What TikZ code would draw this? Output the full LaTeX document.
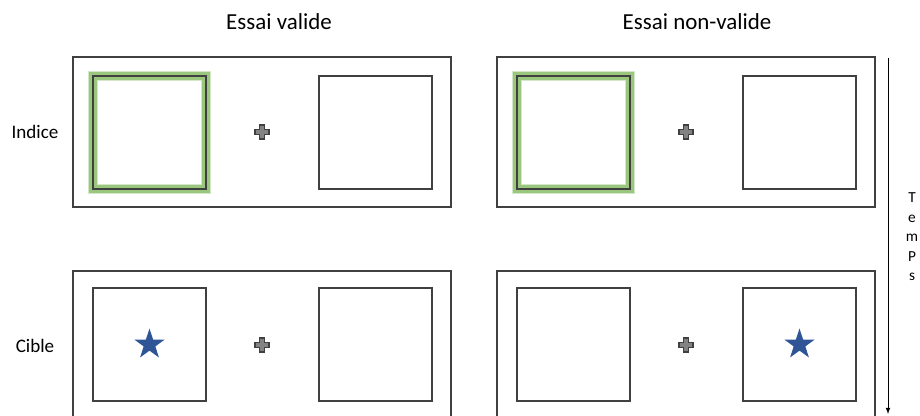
\documentclass[tikz,border=0pt]{standalone}
\usepackage{fontspec}
\setmainfont{Carlito}
\usepackage{xcolor}
\usetikzlibrary{shapes.geometric}
\usetikzlibrary{arrows,calc,positioning}

\definecolor{trait}{HTML}{404040}
\definecolor{etoile}{HTML}{2F5597}
\definecolor{halo}{HTML}{70AD47}

\begin{document}
\begin{tikzpicture}[x=0.75pt,y=-0.75pt]
\tikzset{
  cadre/.style={draw=trait,line width=1.5pt,minimum width=283.5pt,minimum height=112.5pt,inner sep=0pt},
  carre/.style={draw=trait,line width=1.5pt,minimum size=84.75pt,inner sep=0pt},
  lueur/.style={carre,line width=2.2pt},
  cible/.style={star,star points=5,star point ratio=2.6,fill=etoile,minimum size=24pt,inner sep=0pt},
  croix/.pic={\draw[draw=trait,fill=trait!65,line width=1pt]
     (-2.5,-7) -- (2.5,-7) -- (2.5,-2.5) -- (7,-2.5) -- (7,2.5) -- (2.5,2.5) -- (2.5,7)
     -- (-2.5,7) -- (-2.5,2.5) -- (-7,2.5) -- (-7,-2.5) -- (-2.5,-2.5) -- cycle;}
}
\useasboundingbox (0,0) rectangle (920,416);
\clip (0,0) rectangle (920,416);

% titres
\node[font=\fontsize{17.2}{19}\selectfont] (titreV) at (279,22) {Essai valide};
\node[font=\fontsize{17.2}{19}\selectfont] (titreNV) at (697,22) {Essai non-valide};
\node[font=\fontsize{14.3}{16}\selectfont] (indice) at (35,132) {Indice};
\node[font=\fontsize{14.3}{16}\selectfont] (cible) at (35,346) {Cible};

% cadres
\node[cadre] (indV) at (262,132) {};
\node[cadre] (cibV) at (262,346) {};
\node[cadre] (indNV) at (686,132) {};
\node[cadre] (cibNV) at (686,346) {};

% halo vert sous les carres indices
\foreach \x in {149.5,573.5}
{
  \draw[halo!30,line width=8pt] (\x-56.5,76) rectangle (\x+56.5,189);
  \draw[halo!70,line width=5.5pt] (\x-56.5,76) rectangle (\x+56.5,189);
}

% carres
\node[lueur] (indVg) at (149.5,132.5) {};
\node[carre] (indVd) at (375.5,132.5) {};
\node[lueur] (indNVg) at (573.5,132.5) {};
\node[carre] (indNVd) at (799.5,132.5) {};
\node[carre] (cibVg) at (149.5,344.5) {};
\node[carre] (cibVd) at (375.5,344.5) {};
\node[carre] (cibNVg) at (573.5,344.5) {};
\node[carre] (cibNVd) at (799.5,344.5) {};

% points de fixation
\foreach \x/\y in {262/132,686/132,262/345,686/345}
  \pic at (\x,\y) {croix};

% etoiles
\node[cible] (etV) at (cibVg) {};
\node[cible] (etNV) at (cibNVd) {};

% temps
\coordinate (hautT) at (888,58);
\coordinate (basT) at (888,414);
\draw[-latex,line width=0.6pt] (hautT) -- (basT);
\node[align=center,font=\fontsize{11.5}{14.6}\selectfont] (temps) at (912,237) {T\\e\\m\\P\\s};

\end{tikzpicture}
\end{document}
